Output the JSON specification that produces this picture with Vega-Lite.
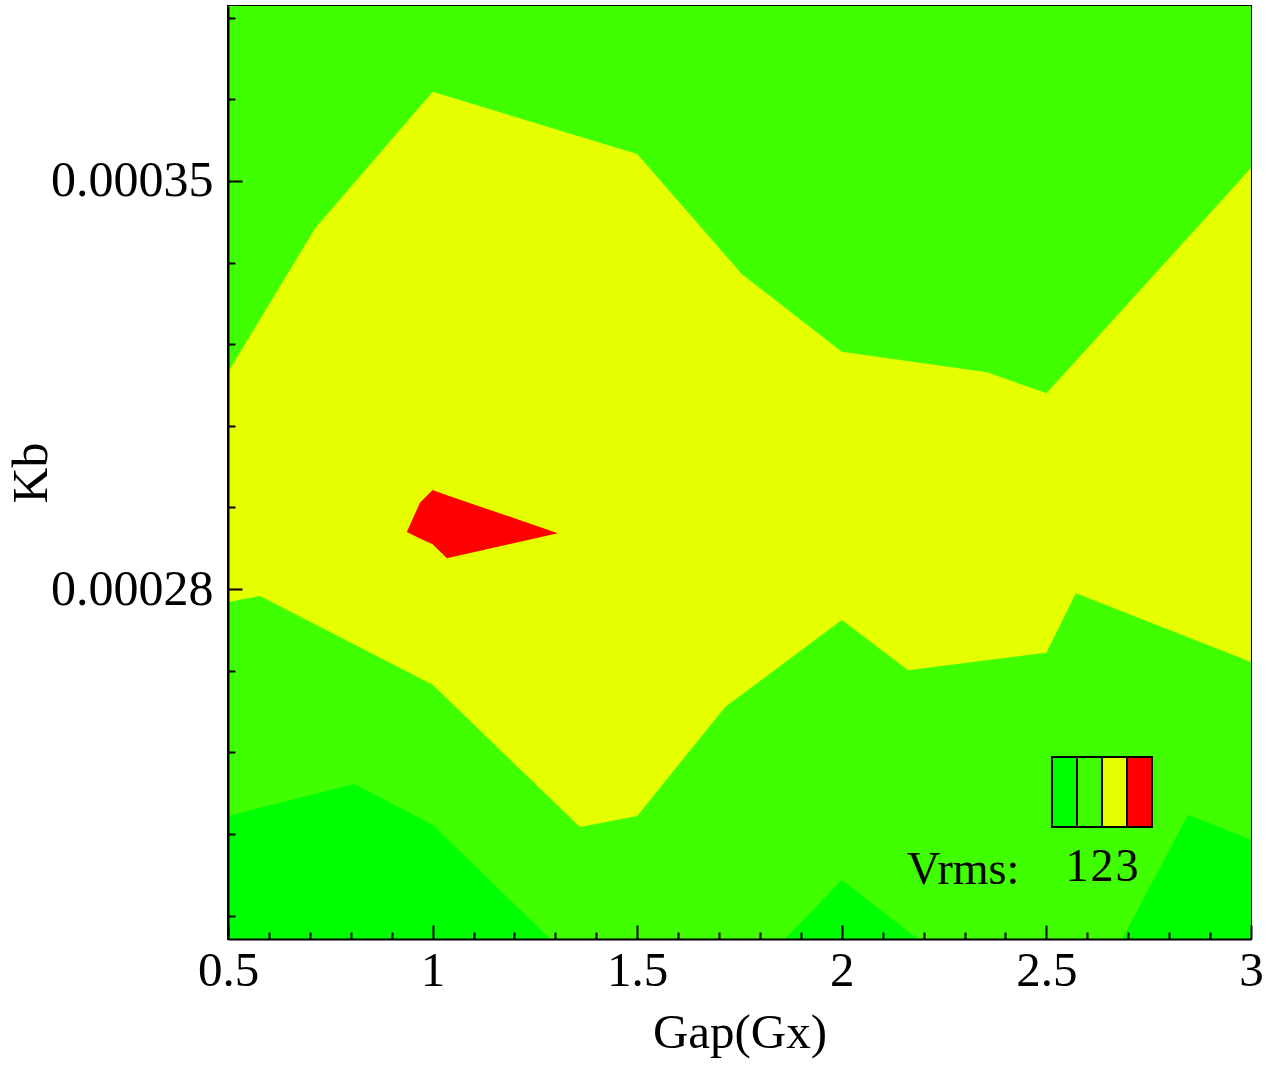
{
  "$schema": "https://vega.github.io/schema/vega-lite/v6.json",
  "width": 1023,
  "height": 933,
  "autosize": {"type": "none"},
  "padding": {"left": 228, "top": 6, "right": 23, "bottom": 126},
  "background": "white",
  "config": {
    "view": {"stroke": "black", "strokeWidth": 2},
    "font": "Liberation Serif"
  },
  "data": {
    "values": [
      {"region": "top", "gap": 0.5, "kb": 0.00038, "vrms": 1.5},
      {"region": "top", "gap": 3.0, "kb": 0.00038, "vrms": 1.5},

      {"region": "yellow", "gap": 0.5, "kb": 0.0003172, "vrms": 2.5},
      {"region": "yellow", "gap": 0.713, "kb": 0.0003419, "vrms": 2.5},
      {"region": "yellow", "gap": 1.0, "kb": 0.0003653, "vrms": 2.5},
      {"region": "yellow", "gap": 1.5, "kb": 0.0003546, "vrms": 2.5},
      {"region": "yellow", "gap": 1.756, "kb": 0.000334, "vrms": 2.5},
      {"region": "yellow", "gap": 2.0, "kb": 0.0003207, "vrms": 2.5},
      {"region": "yellow", "gap": 2.355, "kb": 0.0003172, "vrms": 2.5},
      {"region": "yellow", "gap": 2.5, "kb": 0.0003136, "vrms": 2.5},
      {"region": "yellow", "gap": 3.0, "kb": 0.0003522, "vrms": 2.5},

      {"region": "mid", "gap": 0.5, "kb": 0.0002778, "vrms": 1.5},
      {"region": "mid", "gap": 0.578, "kb": 0.0002788, "vrms": 1.5},
      {"region": "mid", "gap": 1.0, "kb": 0.0002636, "vrms": 1.5},
      {"region": "mid", "gap": 1.36, "kb": 0.0002392, "vrms": 1.5},
      {"region": "mid", "gap": 1.5, "kb": 0.0002411, "vrms": 1.5},
      {"region": "mid", "gap": 1.715, "kb": 0.0002598, "vrms": 1.5},
      {"region": "mid", "gap": 2.0, "kb": 0.0002747, "vrms": 1.5},
      {"region": "mid", "gap": 2.162, "kb": 0.0002661, "vrms": 1.5},
      {"region": "mid", "gap": 2.5, "kb": 0.0002691, "vrms": 1.5},
      {"region": "mid", "gap": 2.572, "kb": 0.0002793, "vrms": 1.5},
      {"region": "mid", "gap": 3.0, "kb": 0.0002675, "vrms": 1.5},

      {"region": "low1", "gap": 0.5, "kb": 0.0002411, "vrms": 0.8},
      {"region": "low1", "gap": 0.808, "kb": 0.0002466, "vrms": 0.8},
      {"region": "low1", "gap": 1.0, "kb": 0.0002396, "vrms": 0.8},
      {"region": "low1", "gap": 1.287, "kb": 0.00022, "vrms": 0.8},
      {"region": "low2", "gap": 1.861, "kb": 0.00022, "vrms": 0.8},
      {"region": "low2", "gap": 2.0, "kb": 0.0002301, "vrms": 0.8},
      {"region": "low2", "gap": 2.186, "kb": 0.00022, "vrms": 0.8},
      {"region": "low3", "gap": 2.685, "kb": 0.00022, "vrms": 0.8},
      {"region": "low3", "gap": 2.846, "kb": 0.0002413, "vrms": 0.8},
      {"region": "low3", "gap": 3.0, "kb": 0.000237, "vrms": 0.8},

      {"region": "red", "gap": 0.937, "kb": 0.0002898, "kb2": 0.0002898, "vrms": 3.2},
      {"region": "red", "gap": 0.969, "kb": 0.0002948, "kb2": 0.0002887, "vrms": 3.2},
      {"region": "red", "gap": 1.0, "kb": 0.000297, "kb2": 0.0002877, "vrms": 3.2},
      {"region": "red", "gap": 1.035, "kb": 0.0002961, "kb2": 0.0002853, "vrms": 3.2},
      {"region": "red", "gap": 1.306, "kb": 0.0002896, "kb2": 0.0002896, "vrms": 3.2}
    ]
  },
  "encoding": {
    "x": {
      "field": "gap",
      "type": "quantitative",
      "title": "Gap(Gx)",
      "scale": {"domain": [0.5, 3.0], "nice": false, "zero": false},
      "axis": {
        "values": [0.5, 0.6, 0.7, 0.8, 0.9, 1.0, 1.1, 1.2, 1.3, 1.4, 1.5, 1.6, 1.7, 1.8, 1.9, 2.0, 2.1, 2.2, 2.3, 2.4, 2.5, 2.6, 2.7, 2.8, 2.9, 3.0],
        "labelExpr": "abs(datum.value * 2 - round(datum.value * 2)) < 1e-6 ? format(datum.value, '~f') : ''",
        "zindex": 1,
        "grid": false,
        "domainColor": "black",
        "domainWidth": 2,
        "tickColor": "black",
        "tickWidth": 2,
        "tickSize": {"expr": "abs(datum.value * 2 - round(datum.value * 2)) < 1e-6 ? -14 : -7"},
        "labelPadding": 21,
        "labelFont": "Liberation Serif",
        "labelFontSize": 49,
        "labelColor": "black",
        "labelOverlap": false,
        "labelFlush": false,
        "labelBound": false,
        "titleFont": "Liberation Serif",
        "titleFontSize": 49,
        "titleFontWeight": "normal",
        "titleColor": "black",
        "titlePadding": 6
      }
    },
    "color": {
      "field": "vrms",
      "type": "quantitative",
      "scale": {"type": "threshold", "domain": [1, 2, 3], "range": ["#00FF00", "#40FF00", "#E5FF00", "#FF0000"]},
      "legend": {
        "type": "gradient",
        "direction": "horizontal",
        "orient": "none",
        "legendX": 679,
        "legendY": 751,
        "padding": 0,
        "gradientLength": 100,
        "gradientThickness": 70,
        "gradientStrokeColor": "black",
        "gradientStrokeWidth": 2,
        "labelFont": "Liberation Serif",
        "labelFontSize": 46,
        "labelColor": "black",
        "labelOffset": 18,
        "labelOverlap": false,
        "title": "Vrms:",
        "titleOrient": "left",
        "titleAnchor": "end",
        "titleBaseline": "alphabetic",
        "titleFont": "Liberation Serif",
        "titleFontSize": 46,
        "titleFontWeight": "normal",
        "titleColor": "black",
        "titlePadding": 32,
        "encode": {
          "title": {"update": {"dy": {"value": 56}}}
        }
      }
    }
  },
  "layer": [
    {
      "transform": [{"filter": "datum.region === 'top'"}],
      "mark": {"type": "area", "clip": true},
      "encoding": {
        "y": {
          "field": "kb",
          "type": "quantitative",
          "title": "Kb",
          "scale": {"domain": [0.00022, 0.00038], "nice": false, "zero": false},
          "axis": {
            "values": [0.000224, 0.000238, 0.000252, 0.000266, 0.00028, 0.000294, 0.000308, 0.000322, 0.000336, 0.00035, 0.000364, 0.000378],
            "labelExpr": "(abs(datum.value - 0.00035) < 1e-9 || abs(datum.value - 0.00028) < 1e-9) ? format(datum.value, '.5f') : ''",
            "zindex": 1,
            "grid": false,
            "domainColor": "black",
            "domainWidth": 2,
            "tickColor": "black",
            "tickWidth": 2,
            "tickSize": {"expr": "(abs(datum.value - 0.00035) < 1e-9 || abs(datum.value - 0.00028) < 1e-9) ? -14 : -7"},
            "labelPadding": 29,
            "labelFont": "Liberation Serif",
            "labelFontSize": 50,
            "labelColor": "black",
            "labelOverlap": false,
            "labelFlush": false,
            "labelBound": false,
            "titleFont": "Liberation Serif",
            "titleFontSize": 50,
            "titleFontWeight": "normal",
            "titleColor": "black",
            "titlePadding": -6
          }
        },
        "y2": {"datum": 0.00022}
      }
    },
    {
      "transform": [{"filter": "datum.region === 'yellow'"}],
      "mark": {"type": "area", "clip": true},
      "encoding": {
        "y": {"field": "kb", "type": "quantitative"},
        "y2": {"datum": 0.00022}
      }
    },
    {
      "transform": [{"filter": "datum.region === 'mid'"}],
      "mark": {"type": "area", "clip": true},
      "encoding": {
        "y": {"field": "kb", "type": "quantitative"},
        "y2": {"datum": 0.00022}
      }
    },
    {
      "transform": [{"filter": "indexof(['low1','low2','low3'], datum.region) >= 0"}],
      "mark": {"type": "area", "clip": true},
      "encoding": {
        "y": {"field": "kb", "type": "quantitative"},
        "y2": {"datum": 0.00022},
        "detail": {"field": "region", "type": "nominal"}
      }
    },
    {
      "transform": [{"filter": "datum.region === 'red'"}],
      "mark": {"type": "area", "clip": true},
      "encoding": {
        "y": {"field": "kb", "type": "quantitative"},
        "y2": {"field": "kb2"}
      }
    }
  ]
}
